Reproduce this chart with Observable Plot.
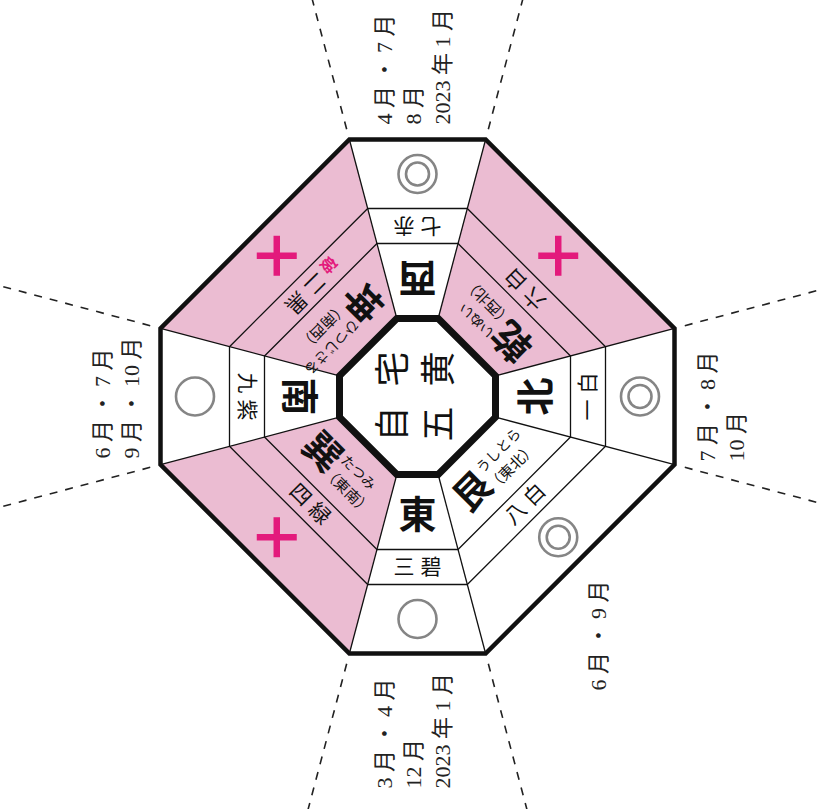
<!DOCTYPE html>
<html><head><meta charset="utf-8">
<script src="https://cdn.jsdelivr.net/npm/d3@7"></script>
<script src="https://cdn.jsdelivr.net/npm/@observablehq/plot@0.6"></script>
<style>
html,body{margin:0;padding:0;background:#fff;overflow:hidden;}
g[aria-description="star"] text{letter-spacing:6px;}
g[aria-description="center"] text{letter-spacing:20px;}
</style>
</head><body><div id="chart"></div>
<script>
// ---- data (sector order: bottom, lower-left, left, upper-left, top, upper-right, right, lower-right)
const directions = ["東","巽","南","坤","西","乾","北","艮"];
const kana       = [null,"たつみ",null,"ひつじさる",null,"いぬい",null,"うしとら"];
const compass    = [null,"（東南）",null,"（南西）",null,"（西北）",null,"（東北）"];
const stars      = ["三碧","四緑","九紫","二黒","七赤","六白","一白","八白"];
const starNotes  = [null,null,null,"破",null,null,null,null];
const symbols    = ["○","+","○","+","◎","+","◎","◎"];
const months     = ["3月・4月\n12月\n2023年1月", null, "6月・7月\n9月・10月", null,
                    "4月・7月\n8月\n2023年1月", null, "7月・8月\n10月", "6月・9月"];
const centerLines = ["自宅","五黄"];

// ---- geometry
const C = [417, 396];
const K = 0.265;                 // ratio of half short side to half width
const rings = [78, 153, 188, 257];
function vert(R, j) {
  const a = K * R;
  const v = [[a,R],[-a,R],[-R,a],[-R,-a],[-a,-R],[a,-R],[R,-a],[R,a]][j];
  return [C[0] + v[0], C[1] + v[1]];
}
function toScreen(i, u, v) {
  const r = i * Math.PI / 4;
  return [C[0] + u * Math.cos(r) - v * Math.sin(r), C[1] + u * Math.sin(r) + v * Math.cos(r)];
}
const diag = i => i % 2 === 1;
const fac = i => diag(i) ? (1 + K) / Math.SQRT2 : 1;
const mid = (a, b, i) => (rings[a] + rings[b]) / 2 * fac(i);

const sectors = directions.map((name, i) => ({i, name, kana: kana[i], compass: compass[i], star: stars[i],
  note: starNotes[i], symbol: symbols[i], month: months[i]}));

// polygons
const pinkPolys = sectors.filter(s => s.symbol === "+").flatMap(s =>
  [vert(rings[0], s.i), vert(rings[0], (s.i+1)%8), vert(rings[3], (s.i+1)%8), vert(rings[3], s.i)]
    .map(([x, y]) => ({id: s.name, x, y})));
const ringPoly = (R, id) => d3.range(8).map(j => { const [x, y] = vert(R, j); return {id, x, y}; });
const thinRings = [...ringPoly(rings[1], "r1"), ...ringPoly(rings[2], "r2")];
const radials = d3.range(8).map(j => ({a: vert(rings[0], j), b: vert(rings[3], j)}));
const dashes = d3.range(8).map(j => ({a: vert(rings[3] * 1.04, j), b: vert(rings[3] * 1.65, j)}));

// texts
const tx = (i, u, v, extra) => { const [x, y] = toScreen(i, u, v); return {x, y, rotate: i * 45, ...extra}; };
const dirTexts = sectors.map(s => tx(s.i, diag(s.i) ? -28 : 0, mid(0, 1, s.i) + 4, {text: s.name}));
const kanaTexts = sectors.filter(s => s.kana).map(s => tx(s.i, -9, 96, {text: s.kana}));
const compTexts = sectors.filter(s => s.compass).map(s => tx(s.i, -13, 117, {text: s.compass}));
const starTexts = sectors.map(s => tx(s.i, s.note ? 9 : 3, mid(1, 2, s.i), {text: s.star}));
const noteTexts = sectors.filter(s => s.note).map(s => tx(s.i, -30, mid(1, 2, s.i) + 4, {text: s.note}));
const symPts = sectors.map(s => tx(s.i, 0, mid(2, 3, s.i), {symbol: s.symbol}));
const circles = symPts.filter(d => d.symbol !== "+");
const doubles = symPts.filter(d => d.symbol === "◎");
const pluses = symPts.filter(d => d.symbol === "+");
const plusArms = pluses.flatMap(d => [
  {x1: d.x - 20, y1: d.y, x2: d.x + 20, y2: d.y},
  {x1: d.x, y1: d.y - 20, x2: d.x, y2: d.y + 20}]);
// spacing between characters, digits kept together
const spaced = t => t.split("\n").map(l => Array.from(l).map((c, k, arr) =>
  (k > 0 && !(/\d/.test(c) && /\d/.test(arr[k - 1])) ? " " : "") + c).join("")).join("\n");
const monthAnchor = {0: [-6, 392], 2: [-302, 62], 4: [-6, -272], 6: [303, 65], 7: [179, 294]};
const monthTexts = sectors.filter(s => s.month).map(s => ({
  x: C[0] + monthAnchor[s.i][0], y: C[1] + monthAnchor[s.i][1], text: spaced(s.month)}));
const centerTexts = centerLines.map((t, k) => ({x: C[0] - 24 + 46 * k, y: C[1] - 10, text: t}));

const MAG = "#e31a7c", PINK = "#ebbcd2", GREY = "#858585";
const cjk = "Noto Sans CJK JP, sans-serif";
const serif = "Liberation Serif, Noto Sans CJK JP, serif";

const plot = Plot.plot({
  width: 819, height: 809, margin: 0,
  x: {domain: [0, 819], range: [0, 819], axis: null},
  y: {domain: [0, 809], range: [0, 809], axis: null},
  style: {background: "white", overflow: "hidden"},
  marks: [
    Plot.line(pinkPolys, {x: "x", y: "y", z: "id", curve: "linear-closed", fill: PINK, stroke: "none"}),
    Plot.link(dashes, {x1: d => d.a[0], y1: d => d.a[1], x2: d => d.b[0], y2: d => d.b[1],
      stroke: "#222", strokeWidth: 1.6, strokeDasharray: "8,8"}),
    Plot.line(thinRings, {x: "x", y: "y", z: "id", curve: "linear-closed", stroke: "#111", strokeWidth: 1.3}),
    Plot.link(radials, {x1: d => d.a[0], y1: d => d.a[1], x2: d => d.b[0], y2: d => d.b[1],
      stroke: "#111", strokeWidth: 1.3}),
    Plot.line(ringPoly(rings[3], "outer"), {x: "x", y: "y", z: "id", curve: "linear-closed",
      stroke: "#111", strokeWidth: 4.5, strokeLinejoin: "miter", strokeMiterlimit: 4}),
    Plot.line(ringPoly(rings[0], "inner"), {x: "x", y: "y", z: "id", curve: "linear-closed",
      fill: "white", stroke: "#111", strokeWidth: 7, strokeLinejoin: "miter", strokeMiterlimit: 4}),
    Plot.dot(circles, {x: "x", y: "y", r: 19, stroke: GREY, strokeWidth: 2.6, fill: "none"}),
    Plot.dot(doubles, {x: "x", y: "y", r: 11.5, stroke: GREY, strokeWidth: 2.6, fill: "none"}),
    Plot.link(plusArms, {x1: "x1", y1: "y1", x2: "x2", y2: "y2", stroke: MAG, strokeWidth: 6.5, strokeLinecap: "butt"}),
    Plot.text(dirTexts, {x: "x", y: "y", text: "text", rotate: "rotate", fontSize: 38, fontWeight: "bold",
      fontFamily: cjk, fill: "#111"}),
    Plot.text(kanaTexts, {x: "x", y: "y", text: "text", rotate: "rotate", fontSize: 14, textAnchor: "start",
      fontFamily: cjk, fill: "#111"}),
    Plot.text(compTexts, {x: "x", y: "y", text: "text", rotate: "rotate", fontSize: 15, textAnchor: "start",
      fontFamily: cjk, fill: "#111"}),
    Plot.text(starTexts, {x: "x", y: "y", text: "text", rotate: "rotate", fontSize: 21,
      fontFamily: cjk, fill: "#111", ariaDescription: "star"}),
    Plot.text(noteTexts, {x: "x", y: "y", text: "text", rotate: "rotate", fontSize: 16, fontWeight: "bold",
      fontFamily: cjk, fill: MAG}),
    Plot.text(centerTexts, {x: "x", y: "y", text: "text", rotate: -90, fontSize: 35,
      fontFamily: cjk, fill: "#111", ariaDescription: "center"}),
    Plot.text(monthTexts, {x: "x", y: "y", text: "text", rotate: -90, fontSize: 22, textAnchor: "start",
      lineAnchor: "middle", lineHeight: 1.32, fontFamily: serif, fill: "#222"})
  ]
});
document.getElementById("chart").appendChild(plot);
</script>
</body></html>
